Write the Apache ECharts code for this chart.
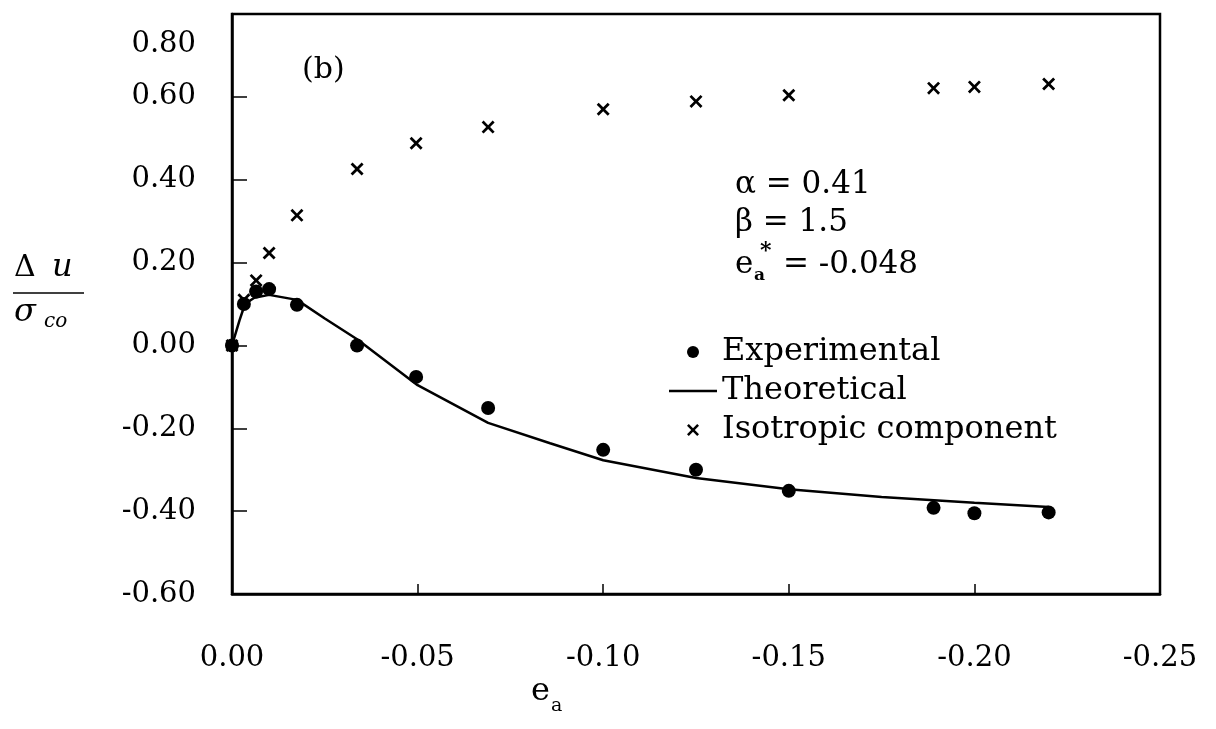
<!DOCTYPE html>
<html>
<head>
<meta charset="utf-8">
<script src="https://cdn.jsdelivr.net/npm/echarts@6/dist/echarts.min.js"></script>
<style>
html,body{margin:0;padding:0;background:#fff;}
#c{width:1216px;height:729px;}
</style>
</head>
<body>
<div id="c"></div>
<script>
// Experimental points (e_a, Δu/σco)
var expX = [0, -0.0032, -0.0065, -0.010, -0.0175, -0.0337, -0.0496, -0.069, -0.100, -0.125, -0.150, -0.189, -0.200, -0.220];
var expY = [0, 0.10, 0.13, 0.136, 0.098, 0.00, -0.076, -0.151, -0.252, -0.300, -0.351, -0.392, -0.405, -0.403];
// Isotropic component
var isoX = [0, -0.0032, -0.0065, -0.010, -0.0175, -0.0337, -0.0496, -0.069, -0.100, -0.125, -0.150, -0.189, -0.200, -0.220];
var isoY = [0, 0.11, 0.157, 0.223, 0.314, 0.426, 0.488, 0.527, 0.570, 0.589, 0.604, 0.621, 0.624, 0.631];
// Theoretical curve
var theoX = [0, -0.002, -0.0035, -0.006, -0.010, -0.0175, -0.025, -0.0337, -0.050, -0.069, -0.0857, -0.100, -0.125, -0.150, -0.175, -0.200, -0.220];
var theoY = [0, 0.06, 0.10, 0.115, 0.122, 0.11, 0.065, 0.015, -0.096, -0.187, -0.236, -0.277, -0.320, -0.347, -0.366, -0.380, -0.390];

var legendNames = ['Experimental', 'Theoretical', 'Isotropic component'];

function zip(a, b) { return a.map(function (v, i) { return [v, b[i]]; }); }

var FONT = 'DejaVu Serif';
var CROSS = 'path://M0,1.5L1.5,0L5,3.5L8.5,0L10,1.5L6.5,5L10,8.5L8.5,10L5,6.5L1.5,10L0,8.5L3.5,5Z';
var DASH = 'path://M0,0L48,0L48,2.5L0,2.5Z';

var chart = echarts.init(document.getElementById('c'), null, {renderer: 'canvas'});
chart.setOption({
  animation: false,
  backgroundColor: '#fff',
  grid: {left: 232, right: 56, top: 14, bottom: 135, show: true, borderColor: '#000', borderWidth: 2.5, backgroundColor: 'transparent'},
  xAxis: {
    type: 'value', inverse: true, min: -0.25, max: 0, interval: 0.05,
    axisLine: {show: true, onZero: false, lineStyle: {color: '#000', width: 2.5}},
    axisTick: {show: true, inside: true, length: 10, lineStyle: {color: '#000', width: 1.5}},
    splitLine: {show: false},
    axisLabel: {
      margin: 50, color: '#000', fontFamily: FONT, fontSize: 29,
      formatter: function (v) { return Math.abs(v) < 1e-9 ? '0.00' : v.toFixed(2); }
    }
  },
  yAxis: {
    type: 'value', min: -0.6, max: 0.8, interval: 0.2,
    axisLine: {show: true, onZero: false, lineStyle: {color: '#000', width: 2.5}},
    axisTick: {show: true, inside: true, length: 15, lineStyle: {color: '#000', width: 1.5}},
    splitLine: {show: false},
    axisLabel: {
      margin: 36, color: '#000', fontFamily: FONT, fontSize: 29,
      formatter: function (v) {
        var s = Math.abs(v) < 1e-9 ? '0.00' : v.toFixed(2);
        if (Math.abs(v - 0.8) < 1e-9) return '{top|' + s + '}';
        return s;
      },
      rich: {top: {fontFamily: FONT, fontSize: 29, color: '#000', padding: [60, 0, 0, 0]}}
    }
  },
  legend: {
    show: true, orient: 'vertical', left: 664, top: 330,
    itemWidth: 48, itemHeight: 12, itemGap: 5,
    data: [
      {name: legendNames[0], icon: 'circle', itemStyle: {color: '#000', opacity: 1}},
      {name: legendNames[1], icon: DASH, itemStyle: {color: '#000', opacity: 1}},
      {name: legendNames[2], icon: CROSS, itemStyle: {color: '#000', opacity: 1}}
    ],
    textStyle: {fontFamily: FONT, fontSize: 32, color: '#000', lineHeight: 34}
  },
  series: [
    {
      name: legendNames[0], type: 'scatter', data: zip(expX, expY),
      symbol: 'circle', symbolSize: 14, clip: false,
      itemStyle: {color: '#000', opacity: 1}, z: 4
    },
    {
      name: legendNames[1], type: 'line', data: zip(theoX, theoY),
      symbol: 'none', smooth: false, clip: false,
      lineStyle: {color: '#000', width: 2.5}, itemStyle: {color: '#000'}, z: 3
    },
    {
      name: legendNames[2], type: 'scatter', data: zip(isoX, isoY),
      symbol: CROSS, symbolSize: 13, clip: false,
      itemStyle: {color: '#000', opacity: 1}, z: 2
    }
  ],
  graphic: [
    {type: 'text', left: 302, top: 55, style: {text: '(b)', font: '30px "DejaVu Serif"', fill: '#000'}},
    {type: 'text', left: 735, top: 169, style: {text: 'α = 0.41', font: '31px "DejaVu Serif"', fill: '#000'}},
    {type: 'text', left: 735, top: 207, style: {text: 'β = 1.5', font: '31px "DejaVu Serif"', fill: '#000'}},
    {type: 'text', left: 735, top: 249, style: {text: 'e', font: '31px "DejaVu Serif"', fill: '#000'}},
    {type: 'text', left: 754, top: 267, style: {text: 'a', font: 'bold 17px "DejaVu Serif"', fill: '#000'}},
    {type: 'text', left: 760, top: 240, style: {text: '*', font: 'bold 22px "DejaVu Serif"', fill: '#000'}},
    {type: 'text', left: 783, top: 249, style: {text: '= -0.048', font: '31px "DejaVu Serif"', fill: '#000'}},
    // y-axis name (fraction)
    {type: 'text', left: 14, top: 253, style: {text: 'Δ', font: '30px "DejaVu Serif"', fill: '#000'}},
    {type: 'text', left: 52, top: 252, style: {text: 'u', font: 'italic 32px "DejaVu Serif"', fill: '#000'}},
    {type: 'line', shape: {x1: 13, y1: 293, x2: 84, y2: 293}, style: {stroke: '#000', lineWidth: 1.5}},
    {type: 'text', left: 14, top: 297, style: {text: 'σ', font: 'italic 32px "DejaVu Serif"', fill: '#000'}},
    {type: 'text', left: 44, top: 312, style: {text: 'co', font: 'italic 20px "DejaVu Serif"', fill: '#000'}},
    // x-axis name
    {type: 'text', left: 531, top: 676, style: {text: 'e', font: '32px "DejaVu Serif"', fill: '#000'}},
    {type: 'text', left: 551, top: 697, style: {text: 'a', font: '19px "DejaVu Serif"', fill: '#000'}}
  ]
});
</script>
</body>
</html>
